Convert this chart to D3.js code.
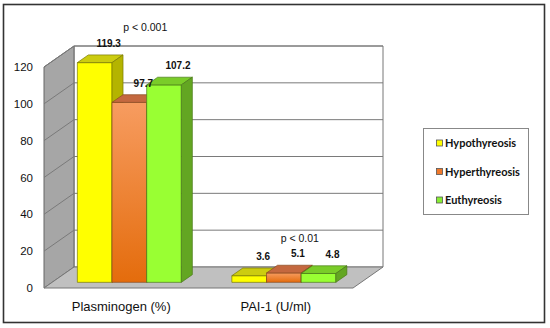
<!DOCTYPE html>
<html>
<head>
<meta charset="utf-8">
<script src="https://cdn.jsdelivr.net/npm/d3@7"></script>
<style>
  body { margin: 0; background: #fff; }
  svg { display: block; }
</style>
</head>
<body>
<svg width="550" height="328"></svg>
<script>
var categories = ["Plasminogen (%)", "PAI-1 (U/ml)"];
var series = ["Hypothyreosis", "Hyperthyreosis", "Euthyreosis"];
var hypoValues = [119.3, 3.6];
var hyperValues = [97.7, 5.1];
var euValues = [107.2, 4.8];
var pLabels = ["p < 0.001", "p < 0.01"];
var yTicks = [0, 20, 40, 60, 80, 100, 120];

var values = [hypoValues, hyperValues, euValues];

var faceColors = [
    {front: "#ffff00", top: "#cccc10", side: "#b4b400", edge: "#7a7a00"},
    {front: "url(#orangeGrad)", top: "#c4683f", side: "#b35a22", edge: "#8a4a20"},
    {front: "#99ff33", top: "#7acc29", side: "#63a622", edge: "#4a7a1a"}
];
var legendColors = ["#ffff00", "#f0782a", "#88ee33"];

var svg = d3.select("svg");

var defs = svg.append("defs");
var grad = defs.append("linearGradient")
    .attr("id", "orangeGrad")
    .attr("x1", 0).attr("y1", 0).attr("x2", 0).attr("y2", 1);
grad.append("stop").attr("offset", "0%").attr("stop-color", "#f79c60");
grad.append("stop").attr("offset", "100%").attr("stop-color", "#e46c0c");

// outer frame
svg.append("rect")
    .attr("x", 3.5).attr("y", 4.5)
    .attr("width", 541).attr("height", 318)
    .attr("fill", "#fff")
    .attr("stroke", "#333")
    .attr("stroke-width", 1.6);

// 3d geometry: front plane + depth offset
var depthX = 30, depthY = -21;
var x = d3.scaleBand().domain(categories).range([44, 353]);
var y = d3.scaleLinear().domain([0, 120]).range([288, 67]);

function proj(px, v, d) {
    return [px + depthX * d, y(v) + depthY * d];
}
function poly(pts) {
    return "M" + pts.map(function(p) { return p[0] + "," + p[1]; }).join("L") + "Z";
}

var x0 = x.range()[0], x1 = x.range()[1];
var g = svg.append("g");

// back wall
g.append("path")
    .attr("d", poly([proj(x0, 120, 1), proj(x1, 120, 1), proj(x1, 0, 1), proj(x0, 0, 1)]))
    .attr("fill", "#fff")
    .attr("stroke", "#777")
    .attr("stroke-width", 1);

// left wall
g.append("path")
    .attr("d", poly([proj(x0, 120, 0), proj(x0, 120, 1), proj(x0, 0, 1), proj(x0, 0, 0)]))
    .attr("fill", "#a6a6a6")
    .attr("stroke", "#666")
    .attr("stroke-width", 1);

// floor
g.append("path")
    .attr("d", poly([proj(x0, 0, 0), proj(x0, 0, 1), proj(x1, 0, 1), proj(x1, 0, 0)]))
    .attr("fill", "#c0c0c0")
    .attr("stroke", "#777")
    .attr("stroke-width", 1);

// gridlines
yTicks.forEach(function(t) {
    if (t === 0) return;
    var a = proj(x0, t, 0), b = proj(x0, t, 1), c = proj(x1, t, 1);
    g.append("path")
        .attr("d", "M" + a + "L" + b + "L" + c)
        .attr("fill", "none")
        .attr("stroke", "#7a7a7a")
        .attr("stroke-width", 1);
});

// y tick labels
g.selectAll(".ytick")
    .data(yTicks)
    .enter().append("text")
    .attr("class", "ytick")
    .attr("x", 33)
    .attr("y", function(d) { return y(d) + 4; })
    .attr("text-anchor", "end")
    .style("font", "11.5px 'Liberation Sans', Arial, sans-serif")
    .attr("fill", "#111")
    .text(function(d) { return d; });

// bars
var groupWidth = 104;
var barW = groupWidth / series.length;
var d0 = 0.27, d1 = d0 + 11 / 30;

categories.forEach(function(cat, ci) {
    var start = x(cat) + (x.bandwidth() - groupWidth) / 2;
    series.forEach(function(s, si) {
        var v = values[si][ci];
        var c = faceColors[si];
        var l = start + si * barW, r = l + barW;
        // front
        g.append("path")
            .attr("d", poly([proj(l, v, d0), proj(r, v, d0), proj(r, 0, d0), proj(l, 0, d0)]))
            .attr("fill", c.front).attr("stroke", c.edge).attr("stroke-width", 0.7);
        // top
        g.append("path")
            .attr("d", poly([proj(l, v, d0), proj(l, v, d1), proj(r, v, d1), proj(r, v, d0)]))
            .attr("fill", c.top).attr("stroke", c.edge).attr("stroke-width", 0.7);
        // side
        g.append("path")
            .attr("d", poly([proj(r, v, d0), proj(r, v, d1), proj(r, 0, d1), proj(r, 0, d0)]))
            .attr("fill", c.side).attr("stroke", c.edge).attr("stroke-width", 0.7);
    });
    // value labels
    series.forEach(function(s, si) {
        var v = values[si][ci];
        var l = start + si * barW;
        var p = proj(l + barW / 2 + 3, v, d1);
        g.append("text")
            .attr("x", p[0])
            .attr("y", p[1] - 8)
            .attr("text-anchor", "middle")
            .style("font", "bold 10px 'Liberation Sans', Arial, sans-serif")
            .attr("fill", "#111")
            .text(v.toFixed(1));
    });
    // p label
    var maxV = d3.max(values, function(arr) { return arr[ci]; });
    g.append("text")
        .attr("x", x(cat) + x.bandwidth() / 2 + 24)
        .attr("y", y(maxV) - 37)
        .attr("text-anchor", "middle")
        .style("font", "10.5px 'Liberation Sans', Arial, sans-serif")
        .attr("fill", "#111")
        .text(pLabels[ci]);
});

// category labels
g.selectAll(".xlab")
    .data(categories)
    .enter().append("text")
    .attr("class", "xlab")
    .attr("x", function(d) { return x(d) + x.bandwidth() / 2; })
    .attr("y", 311)
    .attr("text-anchor", "middle")
    .style("font", "13px 'Liberation Sans', Arial, sans-serif")
    .attr("fill", "#111")
    .text(function(d) { return d; });

// legend
var legend = svg.append("g");
legend.append("rect")
    .attr("x", 423.5).attr("y", 128.5)
    .attr("width", 105).attr("height", 86)
    .attr("fill", "#fff")
    .attr("stroke", "#888")
    .attr("stroke-width", 1);

var legendY = d3.scalePoint().domain(series).range([143, 200]);
var item = legend.selectAll(".item")
    .data(series)
    .enter().append("g")
    .attr("class", "item")
    .attr("transform", function(d) { return "translate(436," + legendY(d) + ")"; });
item.append("rect")
    .attr("x", 0.5).attr("y", -3)
    .attr("width", 6).attr("height", 6)
    .attr("fill", function(d, i) { return legendColors[i]; })
    .attr("stroke", "#555")
    .attr("stroke-width", 0.8);
item.append("text")
    .attr("x", 9)
    .attr("y", 4)
    .style("font", "bold 11px Lato, 'Open Sans', sans-serif")
    .attr("fill", "#111")
    .text(function(d) { return d; });
</script>
</body>
</html>
